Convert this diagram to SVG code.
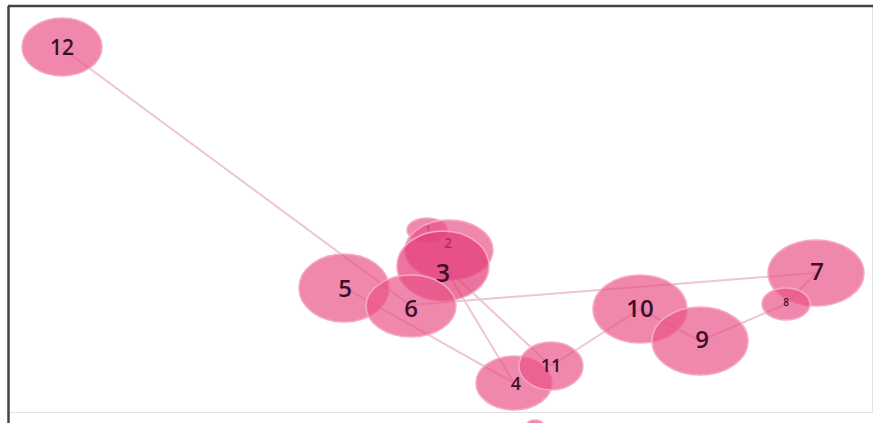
<svg xmlns="http://www.w3.org/2000/svg" width="874" height="423" viewBox="0 0 874 423">
<style>
.e{stroke:#ecc6d3;stroke-width:2;fill:none}
.n{fill:#e94f86;fill-opacity:0.68;stroke:#f5a9c4;stroke-width:1.5}
.t{font-family:"Open Sans","DejaVu Sans",sans-serif;font-weight:600;fill:#3f0f2a;text-anchor:middle;dominant-baseline:central}
</style>
<rect x="0" y="0" width="874" height="423" fill="#ffffff"/>
<rect x="8.5" y="6.5" width="864" height="406" fill="none" stroke="#e2e2e2" stroke-width="1"/>
<line x1="8" y1="6" x2="873" y2="6" stroke="#444" stroke-width="2.5"/>
<line x1="8.5" y1="6" x2="8.5" y2="423" stroke="#444" stroke-width="2.5"/>
<g id="edges">
<line class="e" x1="62" y1="48" x2="410" y2="305"/>
<line class="e" x1="345" y1="288" x2="514" y2="383"/>
<line class="e" x1="443" y1="265" x2="514" y2="383"/>
<line class="e" x1="443" y1="265" x2="551" y2="366"/>
<line class="e" x1="410" y1="305" x2="816" y2="273"/>
<line class="e" x1="551" y1="366" x2="640" y2="309"/>
<line class="e" x1="640" y1="309" x2="700" y2="341"/>
<line class="e" x1="700" y1="341" x2="786" y2="304"/>
<line class="e" x1="786" y1="304" x2="816" y2="273"/>
</g>
<g id="node-12"><ellipse class="n" cx="62" cy="47" rx="40" ry="29"/><text class="t" x="62" y="47" font-size="21">12</text></g>
<g id="node-5"><ellipse class="n" cx="344" cy="288" rx="45" ry="34"/><text class="t" x="345" y="287" font-size="24">5</text></g>
<g id="node-1"><ellipse class="n" cx="427" cy="230" rx="20" ry="12"/><text class="t" x="428" y="228" font-size="7">1</text></g>
<g id="node-2"><ellipse class="n" cx="449" cy="250" rx="44" ry="30"/><text class="t" x="448" y="242" font-size="14">2</text></g>
<g id="node-3"><ellipse class="n" cx="443" cy="266" rx="46" ry="35" style="fill:#e33a76;fill-opacity:0.7"/><text class="t" x="443" y="272" font-size="25">3</text></g>
<g id="node-6"><ellipse class="n" cx="411" cy="306" rx="45" ry="31"/><text class="t" x="411" y="307" font-size="24">6</text></g>
<g id="node-4"><ellipse class="n" cx="514" cy="383" rx="38" ry="27"/><text class="t" x="516" y="383" font-size="18">4</text></g>
<g id="node-11"><ellipse class="n" cx="551" cy="366" rx="32" ry="24"/><text class="t" x="551" y="365" font-size="18">11</text></g>
<g id="node-10"><ellipse class="n" cx="640" cy="309" rx="47" ry="34"/><text class="t" x="640" y="307" font-size="24">10</text></g>
<g id="node-9"><ellipse class="n" cx="700" cy="341" rx="48" ry="34"/><text class="t" x="702" y="338" font-size="24">9</text></g>
<g id="node-7"><ellipse class="n" cx="816" cy="273" rx="48" ry="33"/><text class="t" x="817" y="270" font-size="24">7</text></g>
<g id="node-8"><ellipse class="n" cx="786" cy="304" rx="24" ry="16"/><text class="t" x="786" y="302" font-size="10">8</text></g>
<g id="node-13"><ellipse class="n" cx="535" cy="424" rx="8" ry="4"/></g>
</svg>
